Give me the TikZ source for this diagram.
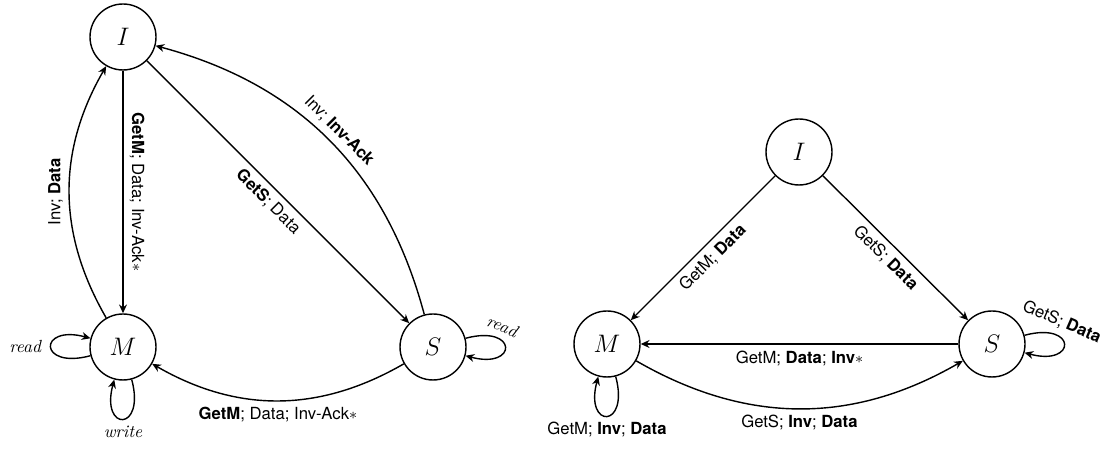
\documentclass[tikz,border=0pt]{standalone}
\usepackage{amsmath}
\usepackage{fontspec}
\setsansfont{TeX Gyre Heros}
\usetikzlibrary{positioning,arrows.meta}

\begin{document}
\begin{tikzpicture}[x=0.02cm, y=0.02cm,
  statenode/.style={draw, circle, thick, minimum size=1.32cm, inner sep=0pt, font=\Large},
  trans/.style={thick, -{Stealth[length=5pt, width=4.5pt]}},
  lbl/.style={font=\sffamily\fontsize{9.5}{11}\selectfont},
  act/.style={font=\itshape}]
\useasboundingbox (0,0) rectangle (1109,449);

% left diagram
\def\xa{123};
\def\xb{433};
\def\ya{102};
\def\yb{412};

\node[statenode](I1) at (\xa, \yb) {$I$};
\node[statenode](M1) at (\xa, \ya) {$M$};
\node[statenode](S1) at (\xb, \ya) {$S$};

\draw[trans] (I1) -- node[midway, rotate=-90, above, lbl] {\textbf{GetM}; Data; Inv-Ack$*$} (M1);
\draw[trans] (M1) to [bend left=30] node[midway, rotate=90, above, lbl] {Inv; \textbf{Data}} (I1);
\draw[trans] (I1) -- node[midway, sloped, below, lbl] {\textbf{GetS}; Data} (S1);
\draw[trans] (S1) to [bend right=30] node[midway, sloped, above, lbl] {Inv; \textbf{Inv-Ack}} (I1);
\draw[trans] (S1) to [bend left=30] node[midway, below, lbl] {\textbf{GetM}; Data; Inv-Ack$*$} (M1);
\draw[trans] (M1) to [loop left] node[left=2pt, act] {read} (M1);
\draw[trans] (M1) to [loop below] node[below, act] {write} (M1);
\draw[trans] (S1) to [loop right] node[pos=0.28, sloped, above, act] {read} (S1);

% right diagram
\def\xa{607};
\def\xb{799};
\def\xc{992};
\def\ya{105};
\def\yb{297};

\node[statenode](I2) at (\xb, \yb) {$I$};
\node[statenode](M2) at (\xa, \ya) {$M$};
\node[statenode](S2) at (\xc, \ya) {$S$};

\draw[trans] (I2) -- node[midway, sloped, below, lbl] {GetM; \textbf{Data}} (M2);
\draw[trans] (I2) -- node[midway, sloped, below, lbl] {GetS; \textbf{Data}} (S2);
\draw[trans] (S2) -- node[midway, below, lbl] {GetM; \textbf{Data}; \textbf{Inv}$*$} (M2);
\draw[trans] (M2) to [bend right=30] node[midway, below, lbl] {GetS; \textbf{Inv}; \textbf{Data}} (S2);
\draw[trans] (S2) to [loop right] node[pos=0.28, sloped, above, lbl] {GetS; \textbf{Data}} (S2);
\draw[trans] (M2) to [loop below] node[below, lbl] {GetM; \textbf{Inv}; \textbf{Data}} (M2);
\end{tikzpicture}
\end{document}
